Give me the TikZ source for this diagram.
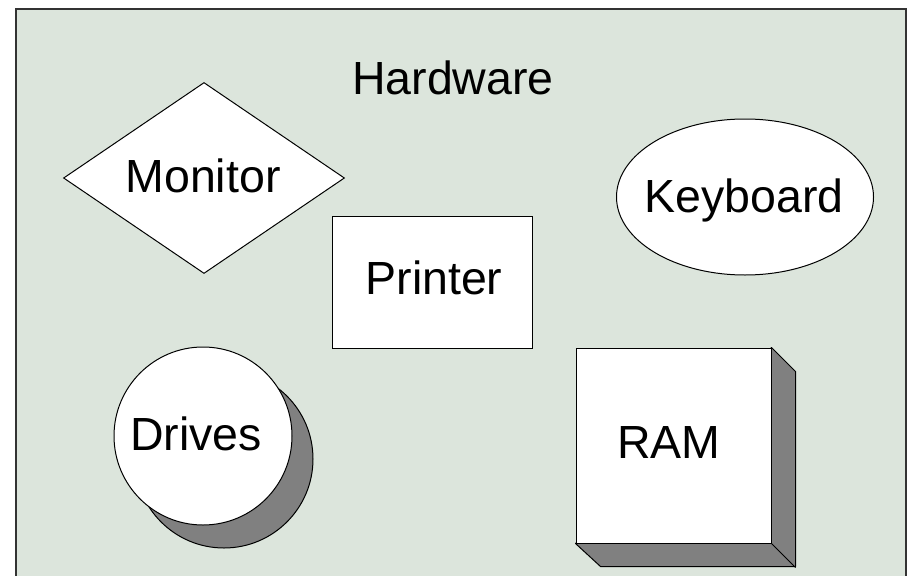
\documentclass[tikz,border=0pt]{standalone}
\usepackage{fontspec}
\setmainfont{Liberation Sans}
\usetikzlibrary{shapes.geometric}
\definecolor{bgpanel}{RGB}{220,229,220}
\definecolor{shadowgray}{RGB}{128,128,128}
\tikzset{
  x=1pt, y=-1pt,
  shapebox/.style={draw=black, line width=1pt, fill=white, inner sep=0pt},
  shadowbox/.style={draw=black, line width=1pt, fill=shadowgray},
  lbl/.style={font=\fontsize{46.5}{56}\selectfont, inner sep=0pt, text height=33pt, text depth=0pt},
}
\begin{document}
\begin{tikzpicture}
\useasboundingbox (0,0) rectangle (909,575);
\clip (0,0) rectangle (909,575);
% panel
\node[draw=black!80, line width=2pt, fill=bgpanel, minimum width=890pt, minimum height=580pt, inner sep=0pt, anchor=north west] (panel) at (15,8) {};
\node[lbl] (hardware) at (453,78) {Hardware};
% Monitor
\node[shapebox, diamond, minimum width=281pt, minimum height=191pt, shape aspect=1.47] (monitor) at (204,178) {};
\node[lbl] (monitor-label) at (203,176) {Monitor};
% Keyboard
\node[shapebox, ellipse, minimum width=257pt, minimum height=156pt] (keyboard) at (745,197) {};
\node[lbl] (keyboard-label) at (744,196) {Keyboard};
% Printer
\node[shapebox, rectangle, minimum width=200pt, minimum height=132pt] (printer) at (432,282) {};
\node[lbl] (printer-label) at (434,278) {Printer};
% Drives
\node[shadowbox, circle, minimum size=178pt, inner sep=0pt] (drives-shadow) at (224,459) {};
\node[shapebox, circle, minimum size=178pt] (drives) at (203,436) {};
\node[lbl] (drives-label) at (196,434) {Drives};
% RAM
\node[shapebox, rectangle, minimum width=195pt, minimum height=195pt, draw=none, fill=none] (ram) at (673.5,445.5) {};
\fill[shadowgray, draw=black, line width=1pt, line join=round]
  (ram.north east) -- ++(24,24) -- ++(0,195) -- ++(-195,0) -- (ram.south west) -- cycle;
\draw[black, line width=1pt] (ram.south east) -- ++(24,24);
\node[shapebox, rectangle, minimum width=195pt, minimum height=195pt] (ram-front) at (ram) {};
\node[lbl] (ram-label) at (669,442) {RAM};
\end{tikzpicture}
\end{document}
